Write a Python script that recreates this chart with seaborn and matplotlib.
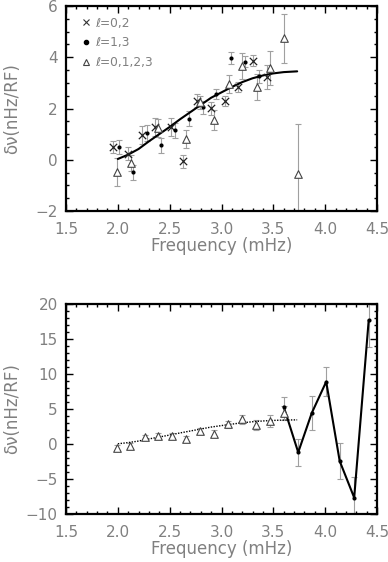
import numpy as np
import pandas as pd
import matplotlib
matplotlib.use("Agg")
import matplotlib.pyplot as plt
from matplotlib.ticker import MultipleLocator
from matplotlib.lines import Line2D
import seaborn as sns

# ---------------- data: top panel ----------------
x02 = [1.95, 2.10, 2.23, 2.36, 2.51, 2.63, 2.76, 2.90, 3.03, 3.16, 3.30, 3.44]
y02 = [0.50, 0.24, 0.95, 1.26, 1.28, -0.06, 2.30, 2.01, 2.28, 2.85, 3.86, 3.23]
e02 = [0.22, 0.25, 0.35, 0.35, 0.35, 0.25, 0.25, 0.25, 0.20, 0.20, 0.22, 0.45]

x13 = [2.01, 2.15, 2.28, 2.42, 2.55, 2.69, 2.82, 2.95, 3.09, 3.23, 3.36]
y13 = [0.50, -0.49, 1.05, 0.56, 1.15, 1.60, 2.05, 2.56, 3.97, 3.83, 3.26]
e13 = [0.28, 0.30, 0.30, 0.30, 0.30, 0.30, 0.25, 0.20, 0.22, 0.20, 0.25]

xall = [1.99, 2.13, 2.39, 2.66, 2.79, 2.93, 3.07, 3.20, 3.34, 3.47, 3.60, 3.74]
yall = [-0.49, -0.13, 1.25, 0.82, 2.24, 1.56, 2.94, 3.65, 2.85, 3.59, 4.74, -0.55]
eall = [0.55, 0.30, 0.35, 0.35, 0.25, 0.40, 0.35, 0.50, 0.50, 0.67, 0.95, 1.95]

curve_x = [2.00, 2.10, 2.20, 2.30, 2.40, 2.50, 2.60, 2.70, 2.80, 2.90, 3.00,
           3.10, 3.20, 3.30, 3.40, 3.50, 3.60, 3.73]
curve_y = [0.03, 0.20, 0.42, 0.72, 1.00, 1.28, 1.58, 1.86, 2.14, 2.42, 2.63,
           2.84, 3.03, 3.18, 3.29, 3.37, 3.42, 3.45]

# ---------------- data: bottom panel ----------------
xb_tri = [1.99, 2.12, 2.26, 2.39, 2.52, 2.66, 2.79, 2.93, 3.06, 3.20, 3.33, 3.47, 3.60]
yb_tri = [-0.6, -0.3, 0.95, 1.14, 1.19, 0.71, 1.90, 1.43, 2.81, 3.52, 2.76, 3.29, 4.50]
eb_tri = [0.4, 0.4, 0.4, 0.4, 0.4, 0.4, 0.4, 0.5, 0.5, 0.6, 0.7, 0.8, 1.0]

xb_dot = [3.60, 3.74, 3.87, 4.01, 4.14, 4.28, 4.42]
yb_dot = [5.33, -1.19, 4.40, 8.90, -2.43, -7.67, 17.70]
eb_dot = [1.40, 1.95, 2.40, 2.10, 2.55, 3.00, 3.90]

labels02 = "\u2113=0,2"
labels13 = "\u2113=1,3"
labelsall = "\u2113=0,1,2,3"

# ---------------- style ----------------
sns.set_style("ticks")
plt.rcParams['font.family'] = ['DejaVu Sans']
TXT = '#808080'
ERR = '#a0a0a0'
plt.rcParams.update({
    'xtick.direction': 'in', 'ytick.direction': 'in',
    'xtick.top': True, 'ytick.right': True,
    'xtick.color': 'black', 'ytick.color': 'black',
    'xtick.labelcolor': TXT, 'ytick.labelcolor': TXT,
    'axes.linewidth': 1.6,
})

fig = plt.figure(figsize=(3.88, 5.62), dpi=100)
ax1 = fig.add_axes([66/388, 1-211/562, 311/388, 205/562])
ax2 = fig.add_axes([66/388, 1-514/562, 311/388, 210/562])


def style_axes(ax, ymaj, ymin):
    ax.xaxis.set_major_locator(MultipleLocator(0.5))
    ax.xaxis.set_minor_locator(MultipleLocator(0.1))
    ax.yaxis.set_major_locator(MultipleLocator(ymaj))
    ax.yaxis.set_minor_locator(MultipleLocator(ymin))
    ax.tick_params(which='major', length=5, width=1.0, labelsize=11)
    ax.tick_params(axis='x', which='major', pad=8)
    ax.tick_params(axis='y', which='major', pad=6)
    ax.tick_params(which='minor', length=2.5, width=1.0)
    ax.tick_params(axis='x', which='both', top=True)
    ax.tick_params(axis='y', which='both', right=True)
    ax.set_xlim(1.5, 4.5)
    ax.xaxis.set_major_formatter(matplotlib.ticker.FormatStrFormatter('%.1f'))
    ax.set_xlabel('Frequency (mHz)', color=TXT, fontsize=12, labelpad=0)
    ax.set_ylabel('\u03b4\u03bd(nHz/RF)', color=TXT, fontsize=12)
    for s in ax.spines.values():
        s.set_visible(True)
        s.set_color('black')


# ---------------- top panel ----------------
ax1.errorbar(x02, y02, yerr=e02, fmt='none', ecolor=ERR, elinewidth=0.8, capsize=2, capthick=0.8, zorder=2)
ax1.errorbar(x13, y13, yerr=e13, fmt='none', ecolor=ERR, elinewidth=0.8, capsize=2, capthick=0.8, zorder=2)
ax1.errorbar(xall, yall, yerr=eall, fmt='none', ecolor=ERR, elinewidth=0.8, capsize=2, capthick=0.8, zorder=2)

sns.lineplot(x=curve_x, y=curve_y, ax=ax1, color='black', lw=1.5, zorder=3)
sns.scatterplot(x=x02, y=y02, ax=ax1, marker='x', s=28, color='#222222', linewidth=0.9, zorder=4)
sns.scatterplot(x=x13, y=y13, ax=ax1, marker='o', s=9, color='black', edgecolor='black', linewidth=0, zorder=4)
sns.scatterplot(x=xall, y=yall, ax=ax1, marker='^', s=30, facecolor='white', edgecolor='#444444', linewidth=0.8, zorder=4)

ax1.set_ylim(-2, 6)
style_axes(ax1, 2, 0.5)

handles = [
    Line2D([], [], marker='x', ls='none', color='#333333', markersize=5, mew=0.8),
    Line2D([], [], marker='o', ls='none', color='black', markersize=3),
    Line2D([], [], marker='^', ls='none', mfc='white', mec='#444444', markersize=5, mew=0.8),
]
leg = ax1.legend(handles, [labels02, labels13, labelsall], loc='upper left',
                 bbox_to_anchor=(0.025, 0.99), frameon=False, fontsize=8.8,
                 handlelength=0.6, handletextpad=0.45, labelspacing=0.55,
                 borderpad=0.2, labelcolor=TXT)

# ---------------- bottom panel ----------------
ax2.errorbar(xb_tri, yb_tri, yerr=eb_tri, fmt='none', ecolor=ERR, elinewidth=0.8, capsize=2, capthick=0.8, zorder=2)
ax2.errorbar(xb_dot, yb_dot, yerr=eb_dot, fmt='none', ecolor=ERR, elinewidth=0.8, capsize=2, capthick=0.8, zorder=2)
sns.lineplot(x=curve_x, y=curve_y, ax=ax2, color='black', lw=1.0, ls=(0, (1, 1)), zorder=3)
sns.lineplot(x=xb_dot, y=yb_dot, ax=ax2, color='black', lw=1.5, zorder=3)
sns.scatterplot(x=xb_dot, y=yb_dot, ax=ax2, marker='o', s=9, color='black', linewidth=0, zorder=4)
sns.scatterplot(x=xb_tri, y=yb_tri, ax=ax2, marker='^', s=30, facecolor='white', edgecolor='#444444', linewidth=0.8, zorder=4)

ax2.set_ylim(-10, 20)
style_axes(ax2, 5, 1)

for ax in (ax1, ax2):
    ax.yaxis.set_label_coords(-0.145, 0.5)

fig.savefig('out.png', dpi=100)
